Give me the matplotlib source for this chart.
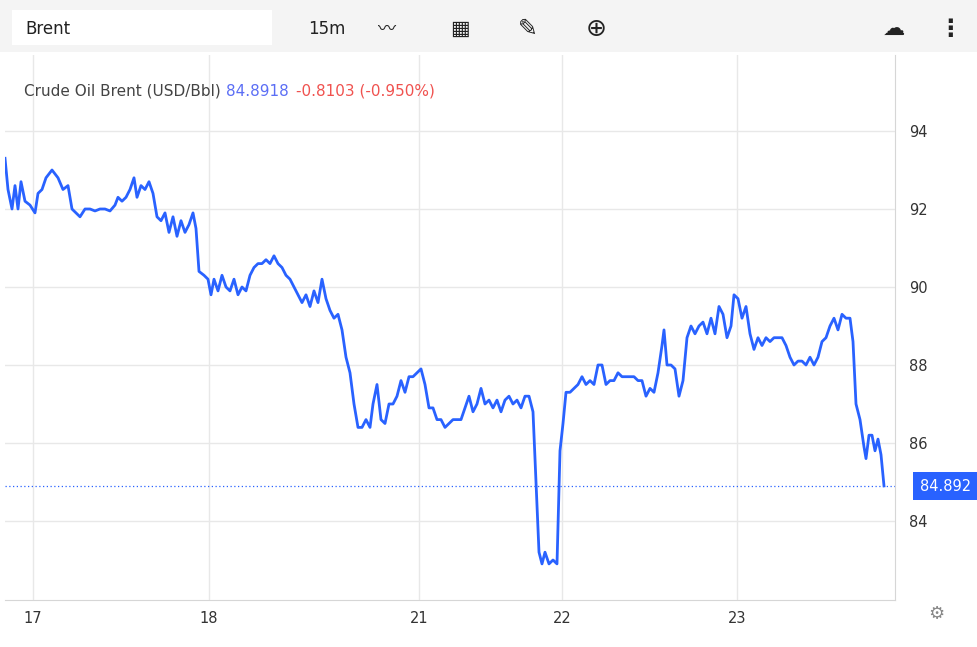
import matplotlib
matplotlib.use("Agg")
import matplotlib.pyplot as plt
from matplotlib.patches import Rectangle

# time positions (chart time index) and Brent prices
t = [5,8,12,15,18,21,25,30,35,38,42,46,52,58,63,68,72,76,80,85,90,95,100,105,110,115,118,122,126,130,134,137,141,145,149,153,157,161,165,169,173,177,181,185,189,193,196,199,204,208,211,214,218,222,226,230,234,238,242,246,250,254,258,262,266,270,274,278,282,286,290,294,298,302,306,310,314,318,322,326,330,334,338,342,346,350,354,358,362,366,370,373,377,381,385,389,393,397,401,405,409,413,417,421,425,429,433,437,441,445,449,453,457,461,465,469,473,477,481,485,489,493,497,501,505,509,513,517,521,525,529,533,536,539,542,545,549,553,557,560,563,566,570,574,578,582,586,590,594,598,602,606,610,614,618,622,626,630,634,638,642,646,650,654,658,662,664,667,671,675,679,683,687,691,695,699,703,707,711,715,719,723,727,731,734,738,742,746,750,754,758,762,766,770,774,778,782,786,790,794,798,802,806,810,814,818,822,826,830,834,838,842,846,850,853,856,860,864,866,869,872,875,878,881,884]
price = [93.3,92.5,92.0,92.6,92.0,92.7,92.2,92.1,91.9,92.4,92.5,92.8,93.0,92.8,92.5,92.6,92.0,91.9,91.8,92.0,92.0,91.95,92.0,92.0,91.95,92.1,92.3,92.2,92.3,92.5,92.8,92.3,92.6,92.5,92.7,92.4,91.8,91.7,91.9,91.4,91.8,91.3,91.7,91.4,91.6,91.9,91.5,90.4,90.3,90.2,89.8,90.2,89.9,90.3,90.0,89.9,90.2,89.8,90.0,89.9,90.3,90.5,90.6,90.6,90.7,90.6,90.8,90.6,90.5,90.3,90.2,90.0,89.8,89.6,89.8,89.5,89.9,89.6,90.2,89.7,89.4,89.2,89.3,88.9,88.2,87.8,87.0,86.4,86.4,86.6,86.4,87.0,87.5,86.6,86.5,87.0,87.0,87.2,87.6,87.3,87.7,87.7,87.8,87.9,87.5,86.9,86.9,86.6,86.6,86.4,86.5,86.6,86.6,86.6,86.9,87.2,86.8,87.0,87.4,87.0,87.1,86.9,87.1,86.8,87.1,87.2,87.0,87.1,86.9,87.2,87.2,86.8,85.0,83.2,82.9,83.2,82.9,83.0,82.9,85.8,86.5,87.3,87.3,87.4,87.5,87.7,87.5,87.6,87.5,88.0,88.0,87.5,87.6,87.6,87.8,87.7,87.7,87.7,87.7,87.6,87.6,87.2,87.4,87.3,87.8,88.5,88.9,88.0,88.0,87.9,87.2,87.6,88.7,89.0,88.8,89.0,89.1,88.8,89.2,88.8,89.5,89.3,88.7,89.0,89.8,89.7,89.2,89.5,88.8,88.4,88.7,88.5,88.7,88.6,88.7,88.7,88.7,88.5,88.2,88.0,88.1,88.1,88.0,88.2,88.0,88.2,88.6,88.7,89.0,89.2,88.9,89.3,89.2,89.2,88.6,87.0,86.6,85.9,85.6,86.2,86.2,85.8,86.1,85.7,84.9]
day_pos = [33, 209, 419, 562, 737]
day_labels = ["17", "18", "21", "22", "23"]
y_ticks = [84, 86, 88, 90, 92, 94]
last = 84.892

W, H = 977, 647
fig = plt.figure(figsize=(W/100, H/100), dpi=100)
fig.patch.set_facecolor("white")
ax = fig.add_axes([5/W, 1-600/H, 890/W, 545/H])
ax.plot(t, price, color="#2962ff", lw=2)
ax.axhline(last, color="#2962ff", lw=0.9, ls=(0, (1, 2)))
ax.set_xlim(5, 895)
ax.set_ylim(84 - 79/39, 94 + 76/39)
ax.set_xticks(day_pos)
ax.set_xticklabels(day_labels)
ax.set_yticks(y_ticks)
ax.yaxis.tick_right()
ax.tick_params(axis="both", length=0, labelsize=10.5, colors="#333333", pad=8)
ax.tick_params(axis="y", pad=10)
ax.grid(True, color="#e8e8e8", lw=1)
for s in ["top", "left"]:
    ax.spines[s].set_visible(False)
for s in ["bottom", "right"]:
    ax.spines[s].set_color("#d6d6d6")

# price label
ax.annotate(f"{last:.3f}", xy=(1, last), xycoords=("axes fraction", "data"),
            xytext=(18, 0), textcoords="offset points", va="center", ha="left",
            color="white", fontsize=10.5, annotation_clip=False,
            bbox=dict(boxstyle="square,pad=0.45", fc="#2962ff", ec="none"))

# toolbar
fig.patches.append(Rectangle((0, 1-52/H), 1, 52/H, transform=fig.transFigure, fc="#f4f4f4", ec="none"))
fig.patches.append(Rectangle((12/W, 1-45/H), 260/W, 35/H, transform=fig.transFigure, fc="white", ec="none"))
fig.text(25/W, 1-29/H, "Brent", fontsize=12, va="center", color="#222222")
fig.text(308/W, 1-29/H, "15m", fontsize=12, va="center", color="#222222")
fig.text(378/W, 1-29/H, "〰", fontsize=13, va="center", color="#222222", family=["Noto Sans CJK SC", "DejaVu Sans"])
fig.text(450/W, 1-29/H, "▦", fontsize=15, va="center", color="#222222")
fig.text(518/W, 1-29/H, "✎", fontsize=17, va="center", color="#222222")
fig.text(586/W, 1-29/H, "⊕", fontsize=18, va="center", color="#222222")
fig.text(883/W, 1-29/H, "☁", fontsize=16, va="center", color="#222222")
fig.text(938/W, 1-29/H, "⋮", fontsize=17, va="center", color="#222222", fontweight="bold")
fig.text(928/W, 1-614/H, "⚙", fontsize=13, va="center", color="#888888")

# title
x0 = 24
t1 = fig.text(x0/W, 1-91/H, "Crude Oil Brent (USD/Bbl)", fontsize=11, va="center", color="#444444")
fig.text(226/W, 1-91/H, "84.8918", fontsize=11, va="center", color="#5b6ef5")
fig.text(296/W, 1-91/H, "-0.8103 (-0.950%)", fontsize=11, va="center", color="#f0524f")

fig.savefig("out.png", dpi=100)
